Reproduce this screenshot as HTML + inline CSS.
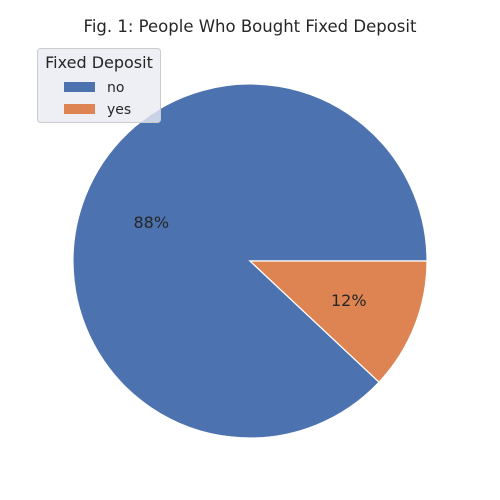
<!DOCTYPE html>
<html><head><meta charset="utf-8"><style>
html,body{margin:0;padding:0;background:#fff;width:500px;height:500px;overflow:hidden}
svg{display:block;font-family:"DejaVu Sans","Liberation Sans",sans-serif}
</style></head><body>
<svg width="500" height="500" viewBox="0 0 500 500">
<text x="250" y="32" text-anchor="middle" font-size="16.5" fill="#262626">Fig. 1: People Who Bought Fixed Deposit</text>
<g id="pie"></g>
<g>
<rect x="37.5" y="48.5" width="123" height="74" rx="3" fill="#eaeaf2" fill-opacity="0.8" stroke="#ccc"/>
<text x="99" y="68" text-anchor="middle" font-size="16" fill="#262626">Fixed Deposit</text>
<g id="legend-entries"></g>
</g>
</svg>
<script>
const categories = ["no", "yes"];
const values = [88, 12];
const colors = ["#4c72b0", "#dd8452"];
const cx = 250, cy = 261, r = 177;
const ns = "http://www.w3.org/2000/svg";
const pie = document.getElementById("pie");
const total = values.reduce((a, b) => a + b, 0);
let start = 0;
values.forEach((v, i) => {
  const sweep = v / total * 2 * Math.PI;
  const a0 = start, a1 = start + sweep;
  const x0 = cx + r * Math.cos(a0), y0 = cy - r * Math.sin(a0);
  const x1 = cx + r * Math.cos(a1), y1 = cy - r * Math.sin(a1);
  const large = sweep > Math.PI ? 1 : 0;
  const p = document.createElementNS(ns, "path");
  p.setAttribute("d", `M${cx},${cy} L${x0},${y0} A${r},${r} 0 ${large} 0 ${x1},${y1} Z`);
  p.setAttribute("fill", colors[i]);
  p.setAttribute("stroke", "#fff");
  p.setAttribute("stroke-width", "1.2");
  
  
  pie.appendChild(p);
  const mid = (a0 + a1) / 2;
  const t = document.createElementNS(ns, "text");
  t.setAttribute("x", cx + 0.6 * r * Math.cos(mid));
  t.setAttribute("y", cy - 0.6 * r * Math.sin(mid) + 6);
  t.setAttribute("text-anchor", "middle");
  t.setAttribute("font-size", "16");
  t.setAttribute("fill", "#262626");
  t.textContent = Math.round(v / total * 100) + "%";
  
  
  pie.appendChild(t);
  start = a1;
});
const leg = document.getElementById("legend-entries");
categories.forEach((c, i) => {
  const y = 82 + i * 22;
  const rc = document.createElementNS(ns, "rect");
  rc.setAttribute("x", 64); rc.setAttribute("y", y);
  rc.setAttribute("width", 31); rc.setAttribute("height", 10);
  rc.setAttribute("fill", colors[i]);
  
  
  leg.appendChild(rc);
  const t = document.createElementNS(ns, "text");
  t.setAttribute("x", 107); t.setAttribute("y", y + 10);
  t.setAttribute("font-size", "14"); t.setAttribute("fill", "#262626");
  t.textContent = c;
  
  
  leg.appendChild(t);
});
</script>
</body></html>
